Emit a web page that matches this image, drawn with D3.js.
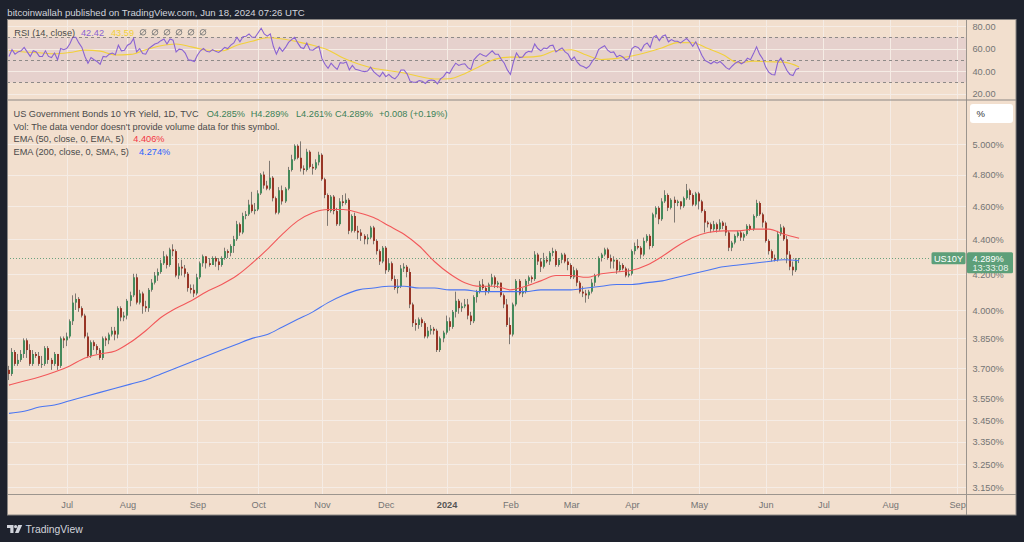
<!DOCTYPE html>
<html><head><meta charset="utf-8">
<script src="https://cdn.jsdelivr.net/npm/d3@7"></script>
<style>
html,body{margin:0;padding:0;background:#1e222d;}
svg{display:block;}
text{font-family:"Liberation Sans",Arial,sans-serif;}
</style></head><body>
<svg id="c" width="1024" height="542"></svg>
<script>
// ---------- DATA ----------
const startDate = "2023-06-06";
const endDate = "2024-09-30";
const holidays = ["2023-07-04","2023-09-04","2023-10-09","2023-11-23","2023-12-25","2024-01-01","2024-01-15","2024-02-19","2024-03-29","2024-05-27","2024-06-19","2024-07-04","2024-09-02"];

const opens = [
3.69,3.67,3.78,3.72,3.74,3.77,3.84,3.79,3.72,3.77,
3.76,3.72,3.72,3.80,3.74,3.72,3.77,3.71,3.85,3.84,
3.86,3.94,4.04,4.06,4.01,3.97,3.86,3.76,3.83,3.81,
3.79,3.75,3.85,3.84,3.87,3.89,3.87,4.01,3.96,3.97,
4.05,4.08,4.18,4.04,4.09,4.02,4.01,4.11,4.15,4.19,
4.21,4.26,4.30,4.25,4.34,4.33,4.19,4.24,4.23,4.20,
4.12,4.11,4.09,4.18,4.26,4.30,4.26,4.25,4.29,4.27,
4.25,4.29,4.33,4.32,4.36,4.40,4.49,4.44,4.54,4.55,
4.61,4.57,4.58,4.68,4.80,4.73,4.71,4.78,4.65,4.56,
4.70,4.63,4.71,4.83,4.90,4.99,4.91,4.84,4.83,4.95,
4.85,4.84,4.88,4.93,4.77,4.67,4.57,4.66,4.57,4.49,
4.63,4.62,4.64,4.45,4.54,4.45,4.44,4.42,4.40,4.41,
4.47,4.39,4.33,4.27,4.35,4.22,4.26,4.17,4.12,4.13,
4.23,4.24,4.21,4.03,3.93,3.92,3.95,3.93,3.86,3.89,
3.90,3.89,3.79,3.85,3.88,3.94,3.91,3.99,4.05,4.01,
4.02,4.03,3.97,3.94,4.07,4.10,4.14,4.12,4.10,4.14,
4.18,4.14,4.15,4.08,4.03,3.92,3.87,4.03,4.16,4.09,
4.10,4.16,4.18,4.17,4.31,4.27,4.24,4.28,4.27,4.32,
4.33,4.25,4.28,4.31,4.27,4.25,4.18,4.22,4.15,4.10,
4.09,4.08,4.10,4.15,4.19,4.29,4.31,4.34,4.29,4.27,
4.28,4.22,4.25,4.23,4.19,4.20,4.33,4.36,4.35,4.31,
4.39,4.42,4.36,4.55,4.59,4.52,4.63,4.67,4.59,4.64,
4.62,4.63,4.60,4.65,4.70,4.67,4.61,4.68,4.63,4.57,
4.50,4.49,4.46,4.49,4.46,4.50,4.48,4.44,4.35,4.38,
4.42,4.44,4.41,4.43,4.48,4.46,4.54,4.62,4.55,4.50,
4.39,4.33,4.29,4.28,4.43,4.47,4.40,4.31,4.24,4.22,
4.285];
const highs = [
3.71,3.80,3.79,3.77,3.79,3.85,3.85,3.82,3.79,3.78,
3.78,3.76,3.81,3.81,3.75,3.78,3.77,3.86,3.86,3.88,
3.95,4.08,4.09,4.07,4.02,3.98,3.88,3.84,3.84,3.82,
3.80,3.86,3.86,3.88,3.91,3.91,4.02,4.02,3.99,4.06,
4.10,4.20,4.20,4.11,4.10,4.05,4.12,4.17,4.21,4.23,
4.28,4.33,4.31,4.35,4.37,4.34,4.26,4.28,4.25,4.21,
4.14,4.14,4.20,4.27,4.31,4.30,4.29,4.30,4.30,4.29,
4.30,4.35,4.34,4.37,4.42,4.51,4.50,4.56,4.57,4.64,
4.69,4.62,4.70,4.81,4.82,4.76,4.89,4.79,4.66,4.72,
4.73,4.72,4.85,4.93,5.00,5.00,5.02,4.86,4.97,4.96,
4.87,4.90,4.95,4.94,4.78,4.68,4.67,4.67,4.59,4.65,
4.67,4.68,4.65,4.55,4.56,4.48,4.46,4.43,4.43,4.48,
4.48,4.40,4.34,4.36,4.36,4.29,4.27,4.19,4.17,4.25,
4.26,4.25,4.23,4.04,3.95,3.96,3.96,3.94,3.91,3.92,
3.91,3.90,3.86,3.89,3.97,3.96,4.00,4.10,4.06,4.04,
4.06,4.06,3.99,4.08,4.11,4.16,4.17,4.13,4.15,4.20,
4.19,4.16,4.15,4.09,4.06,3.96,4.04,4.17,4.17,4.12,
4.17,4.19,4.19,4.33,4.32,4.29,4.32,4.30,4.33,4.35,
4.34,4.29,4.32,4.32,4.29,4.26,4.24,4.23,4.16,4.13,
4.11,4.11,4.17,4.20,4.30,4.32,4.35,4.35,4.31,4.30,
4.28,4.27,4.26,4.24,4.23,4.34,4.38,4.40,4.36,4.41,
4.43,4.43,4.56,4.60,4.60,4.65,4.70,4.68,4.65,4.66,
4.64,4.63,4.66,4.74,4.71,4.68,4.69,4.69,4.64,4.58,
4.51,4.50,4.51,4.50,4.52,4.51,4.50,4.45,4.39,4.43,
4.45,4.45,4.44,4.49,4.49,4.55,4.64,4.63,4.56,4.51,
4.40,4.34,4.31,4.45,4.49,4.48,4.42,4.33,4.27,4.29,
4.289];
const lows = [
3.64,3.66,3.71,3.71,3.73,3.75,3.75,3.71,3.71,3.75,
3.71,3.70,3.71,3.72,3.69,3.71,3.69,3.70,3.80,3.81,
3.85,3.92,4.00,3.99,3.96,3.85,3.75,3.75,3.79,3.77,
3.74,3.74,3.81,3.82,3.86,3.84,3.85,3.94,3.94,3.95,
4.02,4.07,4.03,4.03,3.98,3.99,3.99,4.10,4.14,4.16,
4.20,4.25,4.23,4.24,4.30,4.18,4.17,4.19,4.18,4.10,
4.09,4.07,4.08,4.17,4.24,4.23,4.24,4.25,4.24,4.22,
4.24,4.28,4.29,4.30,4.32,4.39,4.42,4.43,4.52,4.54,
4.56,4.55,4.57,4.67,4.71,4.70,4.70,4.63,4.55,4.55,
4.61,4.62,4.70,4.82,4.89,4.90,4.82,4.80,4.82,4.84,
4.80,4.83,4.86,4.76,4.65,4.48,4.56,4.55,4.48,4.48,
4.60,4.61,4.43,4.44,4.44,4.40,4.39,4.37,4.37,4.40,
4.37,4.31,4.25,4.26,4.20,4.21,4.16,4.11,4.09,4.12,
4.21,4.18,4.01,3.91,3.89,3.90,3.91,3.85,3.85,3.87,
3.87,3.78,3.78,3.83,3.87,3.89,3.90,3.96,3.98,3.99,
4.01,3.95,3.92,3.93,4.04,4.09,4.11,4.08,4.09,4.13,
4.12,4.12,4.07,4.01,3.91,3.82,3.86,4.02,4.08,4.07,
4.09,4.14,4.15,4.16,4.25,4.21,4.23,4.26,4.25,4.30,
4.24,4.24,4.26,4.26,4.22,4.17,4.17,4.13,4.09,4.07,
4.04,4.06,4.09,4.13,4.18,4.27,4.30,4.28,4.23,4.23,
4.20,4.21,4.22,4.18,4.18,4.19,4.31,4.34,4.29,4.30,
4.38,4.34,4.35,4.53,4.49,4.51,4.62,4.57,4.58,4.50,
4.60,4.58,4.59,4.64,4.64,4.60,4.60,4.58,4.56,4.44,
4.47,4.44,4.45,4.44,4.45,4.46,4.42,4.33,4.33,4.37,
4.41,4.39,4.39,4.42,4.45,4.45,4.53,4.54,4.47,4.38,
4.31,4.27,4.27,4.27,4.42,4.39,4.26,4.22,4.19,4.21,
4.261];
const closes = [
3.67,3.78,3.72,3.74,3.77,3.84,3.79,3.72,3.77,3.76,
3.72,3.72,3.80,3.74,3.72,3.77,3.71,3.85,3.84,3.86,
3.94,4.04,4.06,4.01,3.97,3.86,3.76,3.83,3.81,3.79,
3.75,3.85,3.84,3.87,3.89,3.87,4.01,3.96,3.97,4.05,
4.08,4.18,4.04,4.09,4.02,4.01,4.11,4.15,4.19,4.21,
4.26,4.30,4.25,4.34,4.33,4.19,4.24,4.23,4.20,4.12,
4.11,4.09,4.18,4.26,4.30,4.26,4.25,4.29,4.27,4.25,
4.29,4.33,4.32,4.36,4.40,4.49,4.44,4.54,4.55,4.61,
4.57,4.58,4.68,4.80,4.73,4.71,4.78,4.65,4.56,4.70,
4.63,4.71,4.83,4.90,4.99,4.91,4.84,4.83,4.95,4.85,
4.84,4.88,4.93,4.77,4.67,4.57,4.66,4.57,4.49,4.63,
4.62,4.64,4.45,4.54,4.45,4.44,4.42,4.40,4.41,4.47,
4.39,4.33,4.27,4.35,4.22,4.26,4.17,4.12,4.13,4.23,
4.24,4.21,4.03,3.93,3.92,3.95,3.93,3.86,3.89,3.90,
3.89,3.79,3.85,3.88,3.94,3.91,3.99,4.05,4.01,4.02,
4.03,3.97,3.94,4.07,4.10,4.14,4.12,4.10,4.14,4.18,
4.14,4.15,4.08,4.03,3.92,3.87,4.03,4.16,4.09,4.10,
4.16,4.18,4.17,4.31,4.27,4.24,4.28,4.27,4.32,4.33,
4.25,4.28,4.31,4.27,4.25,4.18,4.22,4.15,4.10,4.09,
4.08,4.10,4.15,4.19,4.29,4.31,4.34,4.29,4.27,4.28,
4.22,4.25,4.23,4.19,4.20,4.33,4.36,4.35,4.31,4.39,
4.42,4.36,4.55,4.59,4.52,4.63,4.67,4.59,4.64,4.62,
4.63,4.60,4.65,4.70,4.67,4.61,4.68,4.63,4.57,4.50,
4.49,4.46,4.49,4.46,4.50,4.48,4.44,4.35,4.38,4.42,
4.44,4.41,4.43,4.48,4.46,4.54,4.62,4.55,4.50,4.39,
4.33,4.29,4.28,4.43,4.47,4.40,4.31,4.24,4.22,4.281,
4.289];

// indicator lines, one value every 5 bars
const ema50 = [
3.615,3.635,3.655,3.68,3.71,3.75,3.77,3.785,3.83,3.89,
3.96,4.01,4.05,4.10,4.14,4.19,4.26,4.34,4.43,4.51,
4.56,4.58,4.58,4.56,4.53,4.48,4.43,4.36,4.27,4.20,
4.15,4.13,4.13,4.11,4.13,4.16,4.19,4.19,4.18,4.20,
4.21,4.22,4.25,4.30,4.36,4.41,4.44,4.45,4.45,4.46,
4.46,4.43,4.406];
const ema200 = [
3.48,3.49,3.51,3.52,3.54,3.56,3.58,3.60,3.62,3.64,
3.67,3.70,3.73,3.76,3.79,3.82,3.85,3.87,3.91,3.95,
3.99,4.04,4.08,4.11,4.12,4.13,4.13,4.12,4.12,4.11,
4.11,4.10,4.10,4.10,4.10,4.11,4.11,4.11,4.12,4.13,
4.14,4.14,4.15,4.16,4.18,4.20,4.22,4.24,4.25,4.26,
4.27,4.28,4.274];

// RSI(14) per bar
const rsi = [
53,59,55,57,58,61,57,53,58,57,
53,53,58,53,52,56,50,60,59,60,
64,70,70,65,61,53,47,52,50,48.5,
46,53,52.5,55,56,54.5,63,58,58.5,63,
64.5,69,57,60,55.5,55,60,62,64,65,
67,68.5,64,68.5,67.5,57,59.5,59,56,50,
49.5,48.5,54,58,60,57.5,57,59,57.5,56.5,
58.5,61,60,63,65,70,66,70.5,71,73,
70,70,74,78,73,71,73,62,55,61,
57.5,61,65.5,68,70,65,61,60,65,59,
58.5,60.5,62,51,46,42.5,47,44,41.5,47.5,
47,48,41,45,41.5,41,40,39.5,40,43.5,
39.5,37,35,39,35,37,34.5,33,36,41,
41,37.5,31,30,30,31.5,31,29,31.5,32,
31.5,28.7,33,35,39,38,43,47,45,46,
46.5,43,41.5,50,53,55.5,54,53,55.5,58,
55,55,50.5,47,41,37,48,56,52,52.5,
56,57.5,57,64,60,58,60.5,60,62.5,63,
57,59,60.5,57,55,50,52.5,48,45,44,
42.5,44.5,49,52,59,61,62.5,58.5,56.5,57,
52.5,54,52.5,50,51,60,62,61,58,63,
65,61,70,71.5,67,71,72,66,68,66.5,
66.5,65,67,69,66,62,66,60,54,49.5,
48,46.5,48.5,47,48.5,46,43,41.5,44.5,47,
48.5,46.5,48,51.5,50,55.5,61.5,55,51,43.5,
39,37,36.5,48,51.5,46,40.5,37,36,41.5,
42.42];
// RSI moving average, one value every 5 bars
const rsiMA = [
58.5,57,56.2,55.3,56.5,58.6,57.7,54.3,54.8,59,
62.5,64,61.5,58.7,58,63,66.5,69.6,68.5,66,
63,58.8,51.5,46.2,42.5,40.3,38.3,35.2,33,33.2,
37.7,44.3,50.6,52.4,52.4,53.5,58.2,58.9,54.2,50.3,
51.3,53.4,56.7,60.7,65.3,65.2,60,54.4,47.3,48.8,
48.3,47.9,43.59];

const priceTicks = [5.0,4.8,4.6,4.4,4.2,4.0,3.85,3.7,3.55,3.45,3.35,3.25,3.15];
const rsiTicks = [80,60,40,20];
const rsiLevels = [70,50,30];
const monthNames = ["Jan","Feb","Mar","Apr","May","Jun","Jul","Aug","Sep","Oct","Nov","Dec"];

const headerText = "bitcoinwallah published on TradingView.com, Jun 18, 2024 07:26 UTC";
const symbolTitle = "US Government Bonds 10 YR Yield, 1D, TVC";
const ohlcLabels = ["O4.285%","H4.289%","L4.261%","C4.289%","+0.008 (+0.19%)"];
const volText = "Vol: The data vendor doesn't provide volume data for this symbol.";
const emaLegend = [["EMA (50, close, 0, EMA, 5)","4.406%"],["EMA (200, close, 0, SMA, 5)","4.274%"]];
const rsiLegend = ["RSI (14, close)","42.42","43.59"];
const lastPrice = 4.289;
const countdown = "13:33:08";
const symbolTag = "US10Y";

// ---------- LAYOUT ----------
const svg = d3.select("#c");
const L = 7, R = 966.5, RE = 1016, T = 20, SEP = 100, TA = 494.5, B = 515;
const BG = "#f2dfce", GRID = "#f5ece5", AX = "#9c958e", TXT = "#747474";
const UP = "#458a5c", DN = "#983526", WICK = "#7f7872";

const parse = d3.utcParse("%Y-%m-%d"), fmt = d3.utcFormat("%Y-%m-%d");
const hol = new Set(holidays);
const days = d3.utcDays(parse(startDate), d3.utcDay.offset(parse(endDate), 1))
  .filter(d => d.getUTCDay() % 6 !== 0 && !hol.has(fmt(d)));

const N = closes.length;
const X = d3.scaleLinear().domain([0, 260]).range([8.96, 799.1]);
const Y = d3.scaleLog().domain([5, 4]).range([144.3, 310]);
const Yr = d3.scaleLinear().domain([30, 70]).range([82.3, 37.3]);

// month ticks
const monthIdx = [];
days.forEach((d, i) => { if (i > 0 && d.getUTCMonth() !== days[i-1].getUTCMonth()) monthIdx.push(i); });
const monthLabel = i => days[i].getUTCMonth() === 0 ? String(days[i].getUTCFullYear()) : monthNames[days[i].getUTCMonth()];

const defs = svg.append("defs");
defs.append("clipPath").attr("id","cm").append("rect").attr("x",L).attr("y",SEP).attr("width",R-L).attr("height",TA-SEP);
defs.append("clipPath").attr("id","cr").append("rect").attr("x",L).attr("y",T).attr("width",R-L).attr("height",SEP-T);

// backgrounds
svg.append("rect").attr("x",L).attr("y",T).attr("width",RE-L).attr("height",B-T).attr("fill",BG);
svg.append("rect").attr("x",L).attr("y",Yr(70)).attr("width",R-L).attr("height",Yr(30)-Yr(70))
  .attr("fill","rgba(126,87,194,0.10)");

// grid
const grid = svg.append("g").attr("stroke",GRID).attr("stroke-width",1);
grid.selectAll(".v").data(monthIdx.filter(i => X(i) < R)).join("line")
  .attr("x1", i => Math.round(X(i))+0.5).attr("x2", i => Math.round(X(i))+0.5).attr("y1",T).attr("y2",TA);
grid.selectAll(".h").data(priceTicks).join("line")
  .attr("x1",L).attr("x2",R).attr("y1",d => Math.round(Y(d))+0.5).attr("y2",d => Math.round(Y(d))+0.5);
grid.selectAll(".hr").data(rsiTicks).join("line")
  .attr("x1",L).attr("x2",R).attr("y1",d => Math.round(Yr(d))+0.5).attr("y2",d => Math.round(Yr(d))+0.5);

// RSI pane
const gr = svg.append("g").attr("clip-path","url(#cr)");
gr.selectAll(".lvl").data(rsiLevels).join("line")
  .attr("x1",L).attr("x2",R).attr("y1",d => Math.round(Yr(d))+0.5).attr("y2",d => Math.round(Yr(d))+0.5)
  .attr("stroke","#8e8a88").attr("stroke-dasharray","3,3");
gr.append("path").datum(rsiMA).attr("fill","none").attr("stroke","#f2d03b").attr("stroke-width",1.1)
  .attr("d", d3.line().x((d,k) => X(k*5)).y(d => Yr(d)).curve(d3.curveMonotoneX));
gr.append("path").datum(rsi).attr("fill","none").attr("stroke","#8a63d2").attr("stroke-width",1.1)
  .attr("d", d3.line().x((d,k) => X(k)).y(d => Yr(d)));

// main pane
const gm = svg.append("g").attr("clip-path","url(#cm)");
// price line
gm.append("line").attr("x1",L).attr("x2",931).attr("y1",Math.round(Y(lastPrice))+0.5).attr("y2",Math.round(Y(lastPrice))+0.5)
  .attr("stroke","#6aa27f").attr("stroke-dasharray","1,2");
// candles
const bars = d3.range(N);
gm.append("g").selectAll("line").data(bars).join("line")
  .attr("x1", i => Math.round(X(i))-0.5).attr("x2", i => Math.round(X(i))-0.5)
  .attr("y1", i => Y(highs[i])).attr("y2", i => Y(lows[i]))
  .attr("stroke", WICK).attr("stroke-width",1);
gm.append("g").selectAll("rect").data(bars).join("rect")
  .attr("x", i => Math.round(X(i))-1).attr("width",2)
  .attr("y", i => Y(Math.max(opens[i],closes[i])))
  .attr("height", i => Math.max(1, Y(Math.min(opens[i],closes[i])) - Y(Math.max(opens[i],closes[i]))))
  .attr("fill", i => closes[i] >= opens[i] ? UP : DN);
// moving averages
gm.append("path").datum(ema200).attr("fill","none").attr("stroke","#4b76f2").attr("stroke-width",1.1)
  .attr("d", d3.line().x((d,k) => X(k*5)).y(d => Y(d)).curve(d3.curveMonotoneX));
gm.append("path").datum(ema50).attr("fill","none").attr("stroke","#f2585a").attr("stroke-width",1.1)
  .attr("d", d3.line().x((d,k) => X(k*5)).y(d => Y(d)).curve(d3.curveMonotoneX));

// axes lines / frame
const frame = svg.append("g").attr("stroke",AX).attr("stroke-width",1).attr("fill","none");
frame.append("line").attr("x1",R).attr("x2",R).attr("y1",T).attr("y2",B);
frame.append("line").attr("x1",L).attr("x2",RE).attr("y1",TA).attr("y2",TA);
frame.append("line").attr("x1",L).attr("x2",RE).attr("y1",SEP).attr("y2",SEP).attr("stroke","#8c8784");
svg.append("rect").attr("x",L+0.5).attr("y",T-0.5).attr("width",RE-L-0.5).attr("height",B-T+0.5)
  .attr("fill","none").attr("stroke","#8a8683");

// price axis labels
const yAxis = d3.axisRight(Y).tickValues(priceTicks).tickFormat(d => d3.format(".3f")(d) + "%").tickSize(0).tickPadding(0);
const ga = svg.append("g").attr("transform","translate(972.5,0)").call(yAxis);
ga.select(".domain").remove();
ga.selectAll("text").attr("fill",TXT).attr("font-size",9.2).attr("font-family","Liberation Sans, Arial, sans-serif").attr("dy","0.35em");
const rAxis = d3.axisRight(Yr).tickValues(rsiTicks).tickFormat(d3.format(".2f")).tickSize(0).tickPadding(0);
const gra = svg.append("g").attr("transform","translate(972.5,0)").call(rAxis);
gra.select(".domain").remove();
gra.selectAll("text").attr("fill",TXT).attr("font-size",9.2).attr("font-family","Liberation Sans, Arial, sans-serif").attr("dy","0.35em");

// time axis
const xAxis = d3.axisBottom(X).tickValues(monthIdx.filter(i => X(i) < R)).tickFormat(monthLabel).tickSize(0).tickPadding(0);
const gx = svg.append("g").call(xAxis);
gx.select(".domain").remove();
gx.selectAll("text").attr("y",508).attr("dy",0).attr("font-size",9.2)
  .attr("font-family","Liberation Sans, Arial, sans-serif")
  .attr("font-weight", i => days[i].getUTCMonth() === 0 ? "bold" : "normal")
  .attr("fill", i => days[i].getUTCMonth() === 0 ? "#555" : TXT);

// % button
svg.append("rect").attr("x",970).attr("y",104).attr("width",43).attr("height",19).attr("rx",3).attr("fill","#ffffff");
svg.append("text").attr("x",976.5).attr("y",117.3).attr("font-size",9.5).attr("fill","#333").text("%");

// last price tag
const py = Y(lastPrice);
svg.append("rect").attr("x",931.5).attr("y",py-6).attr("width",34).attr("height",12).attr("rx",1.5).attr("fill","#5d9f79");
svg.append("text").attr("x",948.5).attr("y",py+3.4).attr("text-anchor","middle").attr("font-size",9.2).attr("fill","#fff").text(symbolTag);
svg.append("rect").attr("x",967).attr("y",py-6).attr("width",46).attr("height",21).attr("rx",1.5).attr("fill","#5d9f79");
svg.append("text").attr("x",972.5).attr("y",py+3.4).attr("font-size",9.2).attr("fill","#fff").text(d3.format(".3f")(lastPrice)+"%");
svg.append("text").attr("x",972.5).attr("y",py+12.5).attr("font-size",9.2).attr("fill","#e8f3ec").text(countdown);

// legends
const lg = svg.append("g").attr("font-size",9.2);
lg.append("text").attr("x",13.5).attr("y",117).attr("fill","#4a4a4a").text(symbolTitle);
const ohlcX = [206.7,250.7,296,335,379];
lg.selectAll(".ohlc").data(ohlcLabels).join("text").attr("x",(d,k) => ohlcX[k]).attr("y",117).attr("fill","#3b7f57").text(d => d);
lg.append("text").attr("x",13.5).attr("y",129.6).attr("fill","#4a4a4a").text(volText);
lg.append("text").attr("x",13.5).attr("y",142.2).attr("fill","#4a4a4a").text(emaLegend[0][0]);
lg.append("text").attr("x",133.3).attr("y",142.2).attr("fill","#f23645").text(emaLegend[0][1]);
lg.append("text").attr("x",13.5).attr("y",154.8).attr("fill","#4a4a4a").text(emaLegend[1][0]);
lg.append("text").attr("x",139).attr("y",154.8).attr("fill","#2962ff").text(emaLegend[1][1]);

lg.append("text").attr("x",14.3).attr("y",35.5).attr("fill","#4a4a4a").text(rsiLegend[0]);
lg.append("text").attr("x",81).attr("y",35.5).attr("fill","#8a63d2").text(rsiLegend[1]);
lg.append("text").attr("x",111).attr("y",35.5).attr("fill","#f2d03b").text(rsiLegend[2]);
const icons = lg.append("g").attr("stroke","#7a7a7a").attr("fill","none").attr("stroke-width",0.9);
d3.range(6).forEach(k => {
  const cx = 143 + k*12, cy = 32.3;
  icons.append("circle").attr("cx",cx).attr("cy",cy).attr("r",2.8);
  icons.append("line").attr("x1",cx-3).attr("y1",cy+3).attr("x2",cx+3).attr("y2",cy-3);
});

// header and footer
svg.append("text").attr("x",7.3).attr("y",16).attr("font-size",9.6).attr("fill","#d1d4dc").text(headerText);
const logo = svg.append("g").attr("fill","#d1d4dc");
logo.append("path").attr("d","M7,525 h6.5 v8 h-3.2 v-5 h-3.3 z");
logo.append("circle").attr("cx",15.6).attr("cy",526.6).attr("r",1.6);
logo.append("path").attr("d","M18.2,525 h4 l-3.6,8 h-3.6 z");
svg.append("text").attr("x",25.5).attr("y",533).attr("font-size",10.4).attr("fill","#d1d4dc").text("TradingView");
</script>
</body></html>
